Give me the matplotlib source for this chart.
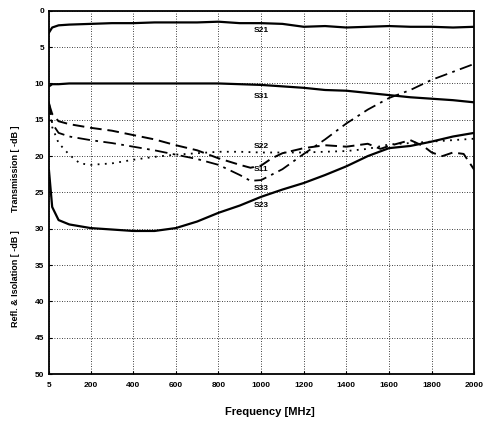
import matplotlib
matplotlib.use("Agg")
import matplotlib.pyplot as plt

plt.rcParams['font.family'] = ['Liberation Sans', 'DejaVu Sans']

# frequencies (MHz) and values (-dB)
f_s21 = [5, 20, 50, 100, 200, 300, 400, 500, 600, 700, 800, 900, 1000, 1100, 1200,
         1300, 1400, 1500, 1600, 1700, 1800, 1900, 2000]
s21 = [3.0, 2.3, 2.0, 1.9, 1.8, 1.7, 1.7, 1.6, 1.6, 1.6, 1.5, 1.7, 1.7, 1.8, 2.2,
       2.1, 2.3, 2.2, 2.1, 2.2, 2.2, 2.3, 2.2]

f_s31 = [5, 20, 50, 100, 200, 400, 600, 800, 900, 1000, 1100, 1200, 1300, 1400,
         1500, 1600, 1700, 1800, 1900, 2000]
s31 = [10.4, 10.1, 10.1, 10.0, 10.0, 10.0, 10.0, 10.0, 10.1, 10.2, 10.4, 10.6,
       10.9, 11.0, 11.3, 11.6, 11.9, 12.1, 12.3, 12.6]

f_s23 = [5, 20, 50, 100, 200, 300, 400, 500, 600, 700, 800, 900, 1000, 1100, 1200,
         1300, 1400, 1500, 1600, 1700, 1800, 1900, 2000]
s23 = [22.0, 27.0, 28.8, 29.4, 29.9, 30.1, 30.3, 30.3, 29.9, 29.0, 27.8, 26.8, 25.6,
       24.6, 23.7, 22.6, 21.4, 20.0, 18.9, 18.6, 18.0, 17.3, 16.8]

f_s11 = [5, 20, 50, 100, 200, 300, 400, 500, 600, 700, 800, 900, 950, 1000, 1050,
         1100, 1200, 1300, 1400, 1500, 1560, 1600, 1700, 1760, 1800, 1850, 1900,
         1950, 2000]
s11 = [12.8, 14.2, 15.2, 15.6, 16.1, 16.5, 17.1, 17.7, 18.5, 19.2, 20.3, 21.2, 21.6,
       21.3, 20.3, 19.6, 18.9, 18.5, 18.7, 18.3, 19.0, 18.6, 17.8, 18.6, 19.5, 20.0,
       19.5, 19.7, 21.9]

f_s33 = [5, 20, 50, 100, 200, 300, 400, 500, 600, 700, 800, 900, 950, 1000, 1100,
         1200, 1300, 1400, 1500, 1600, 1700, 1800, 1900, 2000]
s33 = [12.6, 15.5, 16.8, 17.3, 17.8, 18.2, 18.7, 19.2, 19.8, 20.4, 21.2, 22.6, 23.4,
       23.3, 21.8, 19.7, 17.7, 15.5, 13.6, 12.0, 10.9, 9.5, 8.4, 7.3]

f_s22 = [5, 20, 50, 100, 150, 200, 300, 400, 500, 600, 700, 800, 900, 1000, 1100,
         1200, 1300, 1400, 1500, 1600, 1700, 1800, 1900, 2000]
s22 = [13.0, 16.0, 18.2, 19.8, 21.0, 21.2, 21.0, 20.5, 20.1, 19.8, 19.6, 19.4, 19.4,
       19.5, 19.5, 19.5, 19.4, 19.3, 19.0, 18.4, 18.2, 18.0, 17.8, 17.6]

curve_labels = ['S21', 'S31', 'S22', 'S11', 'S33', 'S23']
label_pos = [2.7, 11.8, 18.7, 21.8, 24.4, 26.8]

x_ticks = [5, 200, 400, 600, 800, 1000, 1200, 1400, 1600, 1800, 2000]
y_ticks = list(range(0, 55, 5))

fig = plt.figure(figsize=(4.85, 4.32), dpi=100)
ax = fig.add_axes([0.101, 0.134, 0.877, 0.841])

ax.plot(f_s21, s21, color='black', lw=1.6)
ax.plot(f_s31, s31, color='black', lw=1.6)
ax.plot(f_s23, s23, color='black', lw=1.6)
ax.plot(f_s11, s11, color='black', lw=1.4, dashes=(6, 3))
ax.plot(f_s33, s33, color='black', lw=1.3, dashes=(7, 3, 1.5, 3))
ax.plot(f_s22, s22, color='black', lw=1.3, dashes=(1, 3))

for name, yv in zip(curve_labels, label_pos):
    ax.text(1000, yv, name, fontsize=6, fontweight='bold', ha='center', va='center')

ax.set_xlim(5, 2000)
ax.set_ylim(50, 0)
ax.set_xticks(x_ticks)
ax.set_yticks(y_ticks)
ax.tick_params(labelsize=6, direction='in', length=2, width=0.8)
for lbl in ax.get_xticklabels() + ax.get_yticklabels():
    lbl.set_fontweight('bold')
ax.tick_params(axis='x', pad=6)
ax.grid(True, color='black', linestyle=(0, (1, 2)), lw=0.6)
for sp in ax.spines.values():
    sp.set_linewidth(1.3)

fig.text(0.557, 0.04, 'Frequency [MHz]', fontsize=8, fontweight='bold', ha='center')
fig.text(0.032, 0.61, 'Transmission [ -dB ]', fontsize=6.5, fontweight='bold',
         rotation=90, ha='center', va='center')
fig.text(0.032, 0.355, 'Refl. & Isolation [ -dB ]', fontsize=6.5, fontweight='bold',
         rotation=90, ha='center', va='center')

fig.savefig('out.png', dpi=100)
